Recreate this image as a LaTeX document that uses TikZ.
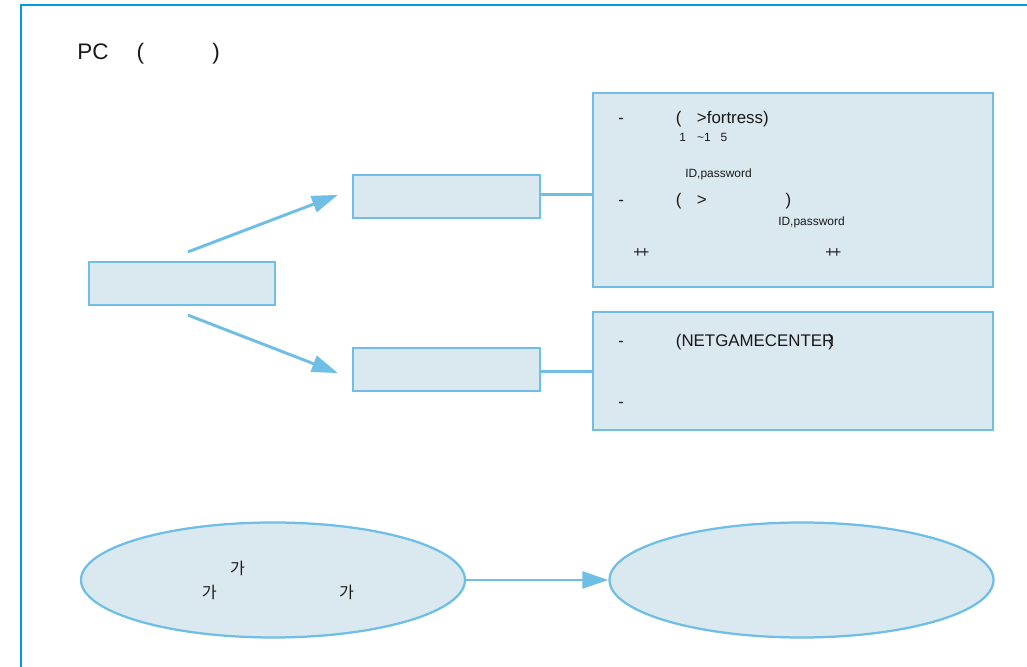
\documentclass[tikz,border=0pt]{standalone}
\usepackage{fontspec}
\setmainfont{Liberation Sans}
\newfontfamily\kofont{Noto Sans CJK KR}
\usetikzlibrary{arrows.meta,positioning,shapes.geometric,calc}
\definecolor{rim}{RGB}{0,155,220}
\definecolor{sky}{RGB}{110,190,230}
\definecolor{mist}{RGB}{218,232,240}
\definecolor{ink}{RGB}{25,25,25}
\tikzset{
  >={Triangle[length=6.5mm,width=4.2mm]},
  box/.style={draw=sky,fill=mist,line width=1.6pt,inner sep=0pt},
  oval/.style={ellipse,draw=sky,fill=mist,line width=1.6pt,inner sep=0pt,
    minimum width=9.6cm,minimum height=2.875cm,align=left,
    font=\fontsize{11.5}{17}\selectfont\kofont,text=ink},
  flow/.style={->,line width=2.1pt,draw=sky},
  link/.style={line width=2.1pt,draw=sky},
  txt/.style={anchor=base west,inner sep=0pt,text=ink,font=\fontsize{12}{14}\selectfont},
  small/.style={txt,font=\fontsize{8.5}{10}\selectfont},
}
\begin{document}
\begin{tikzpicture}
  \useasboundingbox (0,0) rectangle (25.675,16.675);
  % frame
  \draw[rim,line width=1.5pt] (0.525,0) -- (0.525,16.55) -- (25.675,16.55);
  \node[txt,font=\fontsize{16}{19}\selectfont] (title) at (1.925,15.175)
    {PC\hspace*{20pt}(\hspace*{48.5pt})};
  % boxes
  \node[box,minimum width=4.65cm,minimum height=1.075cm] (pc) at (4.55,9.5875) {};
  \node[box,minimum width=4.675cm,minimum height=1.075cm] (top) at (11.1625,11.7625) {};
  \node[box,minimum width=4.675cm,minimum height=1.075cm] (bot) at (11.1625,7.4375) {};
  \node[box,minimum width=10cm,minimum height=4.85cm] (infoA) at (19.825,11.925) {};
  \node[box,minimum width=10cm,minimum height=2.95cm] (infoB) at (19.825,7.4) {};
  \draw[flow] ([xshift=0.15cm,yshift=0.225cm]pc.north) -- ([xshift=-0.35cm,yshift=0.04cm]top.west);
  \draw[flow] ([xshift=0.15cm,yshift=-0.225cm]pc.south) -- ([xshift=-0.35cm,yshift=-0.09cm]bot.west);
  \draw[link] ([yshift=0.04cm]top.east) -- ([yshift=0.04cm]top.east -| infoA.west);
  \draw[link] ([yshift=-0.04cm]bot.east) -- ([yshift=-0.04cm]bot.east -| infoB.west);
  % texts in the upper box
  \node[txt] (a1) at (15.45,13.575) {-\hspace*{37pt}(\hspace*{11pt}>fortress)};
  \node[small] (a2) at (16.975,13.125)
    {1\hspace*{8pt}\textasciitilde1\hspace*{7pt}5};
  \node[small] (a3) at (17.125,12.225) {ID,password};
  \node[txt] (a4) at (15.45,11.525) {-\hspace*{37pt}(\hspace*{11pt}>\hspace*{56pt})};
  \node[small] (a5) at (19.45,11.025) {ID,password};
  \foreach \x [count=\i] in {15.825,20.625}
    \node[txt,anchor=west,font=\fontsize{11}{12}\selectfont] (k\i) at (\x,10.35) {+\kern-0.12em+};
  % texts in the lower box
  \node[txt] (b1) at (15.45,8.0) {-\hspace*{37pt}(NETGAMECENTER\kern-0.35em)};
  \node[txt] (b2) at (15.45,6.475) {-};
  % ovals
  \node[oval] (ellA) at (6.825,2.175) {\hspace*{27pt}가\\\hspace*{7pt}가\hspace*{87pt}가};
  \node[oval] (ellB) at (20.0375,2.175) {};
  \draw[flow] (ellA.east) -- (ellB.west);
\end{tikzpicture}
\end{document}
